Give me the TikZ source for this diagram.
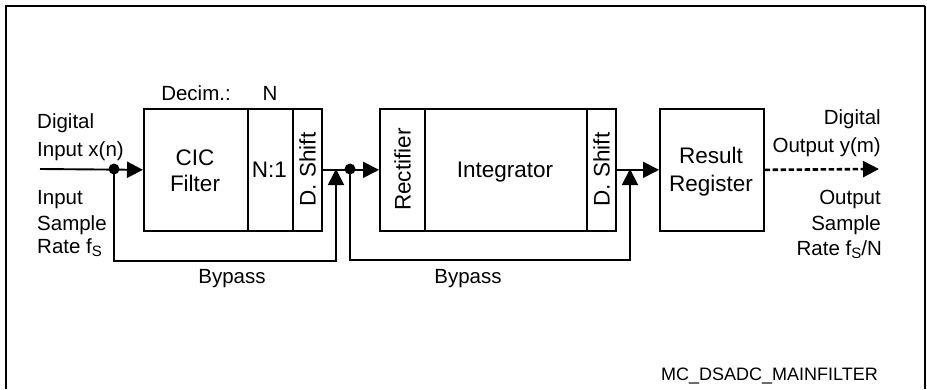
\documentclass[tikz,border=0pt]{standalone}
\usepackage{fontspec}
\setmainfont{Liberation Sans}
\usetikzlibrary{arrows.meta}
\begin{document}
\begin{tikzpicture}[x=1pt,y=-1pt,
  blk/.style={draw,line width=1.7pt,minimum height=122pt,inner sep=0pt,anchor=north west},
  txt/.style={font=\fontsize{20.5}{26}\selectfont,inner sep=0pt},
  btxt/.style={font=\fontsize{22.5}{26}\selectfont,inner sep=0pt},
  sig/.style={line width=1.9pt,-{Triangle[length=16pt,width=16pt]}},
  dotnode/.style={circle,fill,inner sep=0pt,minimum size=11pt}]
\useasboundingbox (0,0) rectangle (927,389);
% frame
\draw[line width=2.2pt] (6,389) -- (6,6) -- (925,6);
\draw[line width=1.7pt] (925,6) -- (925,389);
% blocks
\node[blk,minimum width=104pt] (cic) at (143,108) {};
\node[blk,minimum width=45pt] (n1) at (247,108) {};
\node[blk,minimum width=29pt] (ds1) at (292,108) {};
\node[blk,minimum width=45pt] (rect) at (379,108) {};
\node[blk,minimum width=162pt] (integ) at (424,108) {};
\node[blk,minimum width=29pt] (ds2) at (586,108) {};
\node[blk,minimum width=104pt] (res) at (659,108) {};
% block texts
\node[btxt,anchor=base] (cict1) at (195,165) {CIC};
\node[btxt,anchor=base] (cict2) at (195,191) {Filter};
\node[btxt,anchor=base] (n1t) at (269.5,177) {N:1};
\node[btxt,rotate=90] (ds1t) at (307.5,169.5) {D. Shift};
\node[btxt,rotate=90] (rectt) at (402.5,169.5) {Rectifier};
\node[btxt,anchor=base] (integt) at (505,177.5) {Integrator};
\node[btxt,rotate=90] (ds2t) at (601.5,169.5) {D. Shift};
\node[btxt,anchor=base] (rest1) at (711,163) {Result};
\node[btxt,anchor=base] (rest2) at (711,191) {Register};
% labels
\node[txt,anchor=base] (decim) at (196,100) {Decim.:};
\node[txt,anchor=base] (decn) at (270,100) {N};
\node[txt,anchor=base west] (inl1) at (37,128) {Digital};
\node[txt,anchor=base west] (inl2) at (37,156) {Input x(n)};
\node[txt,anchor=base west] (inr1) at (37,204) {Input};
\node[txt,anchor=base west] (inr2) at (37,230) {Sample};
\node[txt,anchor=base west] (inr3) at (37,253) {Rate f\raisebox{-0.35ex}{\fontsize{15}{15}\selectfont S}};
\node[txt,anchor=base east] (outl1) at (881,124) {Digital};
\node[txt,anchor=base east] (outl2) at (881,152) {Output y(m)};
\node[txt,anchor=base east] (outr1) at (881,204) {Output};
\node[txt,anchor=base east] (outr2) at (881,230) {Sample};
\node[txt,anchor=base east] (outr3) at (882,255) {Rate f\raisebox{-0.35ex}{\fontsize{15}{15}\selectfont S}/N};
\node[txt,anchor=base] (bp1) at (232,283) {Bypass};
\node[txt,anchor=base] (bp2) at (468,283) {Bypass};
\node[inner sep=0pt,anchor=base,font=\fontsize{18}{20}\selectfont] (id) at (769.5,380) {MC\_DSADC\_MAINFILTER};
% connection points
\coordinate (in) at (40,169);
\coordinate (out) at (879,169);
\node[dotnode] (d1) at (114,169) {};
\node[dotnode] (d2) at (350,169) {};
\coordinate (m1) at (336,169);
\coordinate (m2) at (630,169);
% signal path
\draw[sig] (in) -- (cic.west);
\draw[sig] (ds1.east) -- (rect.west);
\draw[sig] (ds2.east) -- (res.west);
\draw[line width=2.6pt,dash pattern=on 5.5pt off 2.5pt,-{Triangle[length=16pt,width=16pt]}] (res.east) -- (out);
% bypasses
\draw[sig] (d1.center) -- ++(0,92) -| (m1);
\draw[sig] (d2.center) -- ++(0,91) -| (m2);
\end{tikzpicture}
\end{document}
